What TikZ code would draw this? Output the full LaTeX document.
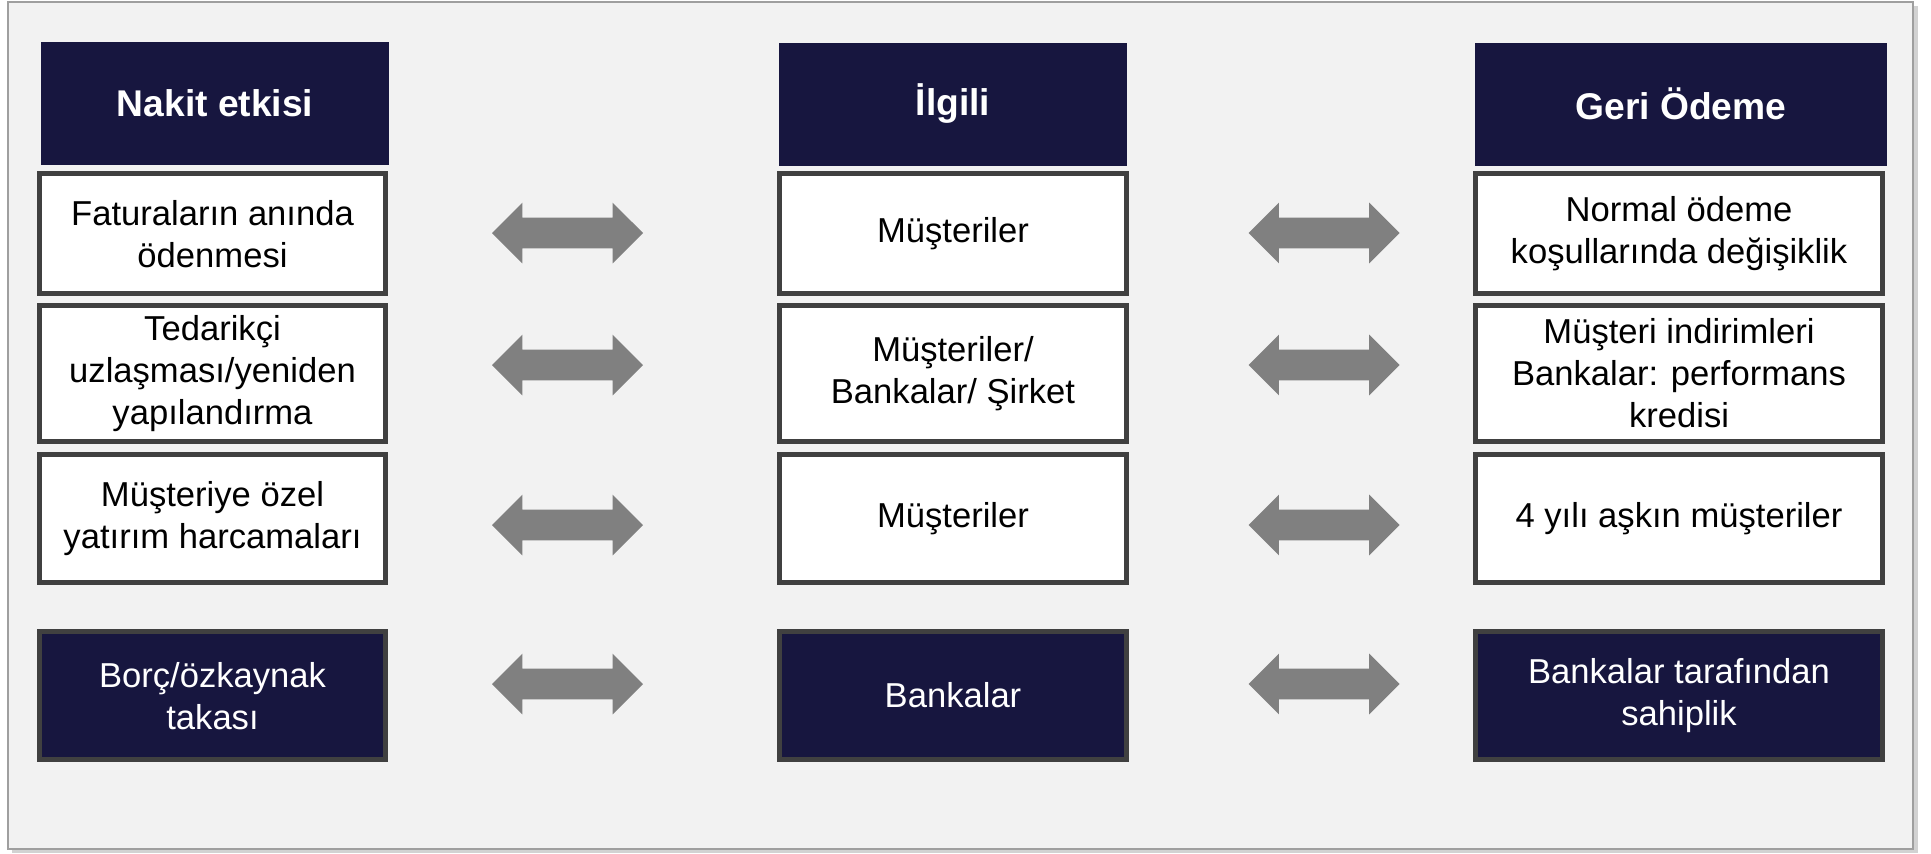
\documentclass[tikz,border=0pt]{standalone}
\usepackage{fontspec}
\setmainfont{Liberation Sans}
\usetikzlibrary{positioning, shapes.arrows}
\definecolor{navy}{RGB}{23,22,63}
\definecolor{edge}{RGB}{64,64,64}
\definecolor{panel}{RGB}{242,242,242}
\definecolor{arrowgray}{RGB}{128,128,128}
\tikzset{
hdr/.style={fill=navy, text=white, font=\bfseries\fontsize{18.6}{22}\selectfont,
  minimum height=61.5pt, inner sep=0pt},
item/.style={draw=edge, line width=2.5pt, fill=white, align=center,
  font=\fontsize{17.3}{21}\selectfont, inner sep=0pt},
dark/.style={item, fill=navy, text=white},
twoway/.style={double arrow, fill=arrowgray, inner xsep=0pt, inner ysep=7.5pt,
  minimum height=75.5pt, minimum width=30pt,
  double arrow head extend=7.5pt, double arrow head indent=0pt},
lcol/.style={minimum width=173pt},
mcol/.style={minimum width=173.5pt},
rcol/.style={minimum width=203.5pt}
}
\begin{document}
\begin{tikzpicture}[x=0.5pt, y=-0.5pt]
\useasboundingbox (0,0) rectangle (1931,853);
% background panel
\fill[gray!35] (12,6) rectangle (1918,853);
\draw[gray!75, line width=0.7pt, fill=panel] (8,2) rectangle (1913,849);

% headers
\node[hdr, minimum width=174pt] (hl) at (215,103.5) {Nakit etkisi};
\node[hdr, minimum width=174pt] (hm) at (953,104) {İlgili};
\node[hdr, minimum width=206pt] (hr) at (1681,104) {Geri Ödeme};

% left column
\node[item, lcol, minimum height=60pt, below=3pt of hl, xshift=-1.25pt] (l1) {Faturaların anında\\ödenmesi};
\node[item, lcol, minimum height=68pt, below=3.5pt of l1] (l2) {Tedarikçi\\uzlaşması/yeniden\\yapılandırma};
\node[item, lcol, minimum height=64pt, below=4pt of l2] (l3) {Müşteriye özel\\yatırım harcamaları};
\node[dark, lcol, minimum height=64pt, below=22pt of l3] (l4) {Borç/özkaynak\\takası};

% middle column
\node[item, mcol, minimum height=60pt, below=2.5pt of hm] (m1) {Müşteriler};
\node[item, mcol, minimum height=68pt, below=3.5pt of m1] (m2) {Müşteriler/\\Bankalar/ Şirket};
\node[item, mcol, minimum height=64pt, below=4pt of m2] (m3) {Müşteriler};
\node[dark, mcol, minimum height=64pt, below=22pt of m3] (m4) {Bankalar};

% right column
\node[item, rcol, minimum height=60pt, below=2.5pt of hr, xshift=-1pt] (r1) {Normal ödeme\\koşullarında değişiklik};
\node[item, rcol, minimum height=68pt, below=3.5pt of r1] (r2) {Müşteri indirimleri\\Bankalar: performans\\kredisi};
\node[item, rcol, minimum height=64pt, below=4pt of r2] (r3) {4 yılı aşkın müşteriler};
\node[dark, rcol, minimum height=64pt, below=22pt of r3] (r4) {Bankalar tarafından\\sahiplik};

% two-way arrows
\foreach \y [count=\i] in {233,365,525,684} {
  \node[twoway] (al\i) at (567.5,\y) {};
  \node[twoway] (ar\i) at (1324,\y) {};
}
\end{tikzpicture}
\end{document}
